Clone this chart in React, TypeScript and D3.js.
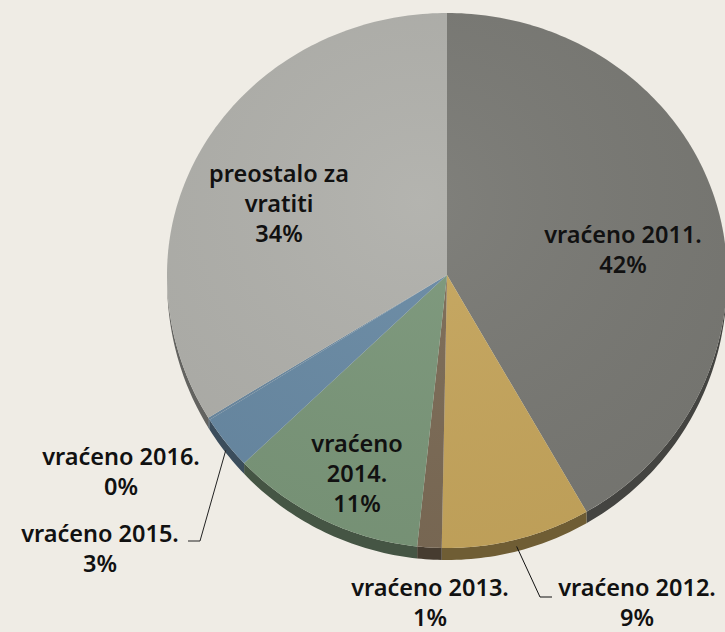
import React from "react";
import * as d3 from "d3";

const categories = [
  "vraćeno 2011.",
  "vraćeno 2012.",
  "vraćeno 2013.",
  "vraćeno 2014.",
  "vraćeno 2015.",
  "vraćeno 2016.",
  "preostalo za vratiti",
];
const values = [41.7, 8.6, 1.4, 11.2, 3.2, 0.15, 33.75];
const colors = ["#787873", "#C5A55C", "#7B6A55", "#7A9679", "#6889A3", "#6A88A0", "#AFAFAA"];

// label layout: lines of the category text, anchor center x, first baseline, line step
const labelLines = [
  ["vraćeno 2011."],
  ["vraćeno 2012."],
  ["vraćeno 2013."],
  ["vraćeno", "2014."],
  ["vraćeno 2015."],
  ["vraćeno 2016."],
  ["preostalo za", "vratiti"],
];
const labelPos = [
  [623, 243, 30],
  [637, 596, 29.5],
  [430, 596, 29.5],
  [357, 452, 30],
  [100, 542, 30],
  [121, 465, 30],
  [279, 182, 30],
];

const W = 725;
const H = 632;
const cx = 447;
const cy = 275;
const rx = 280;
const ryTop = 262;
const ryBot = 273;
const depth = 12;

function pt(a: number, dy = 0): [number, number] {
  const c = Math.cos(a);
  const ry = c > 0 ? ryTop : ryBot;
  return [cx + rx * Math.sin(a), cy - ry * c + dy];
}

export default function App() {
  const total = d3.sum(values);
  const pie = d3.pie<number>().sort(null).value((d) => d);
  const arcs = pie(values);

  const slicePath = (a0: number, a1: number) => {
    const p = d3.path();
    p.moveTo(cx, cy);
    const n = Math.max(2, Math.ceil(((a1 - a0) * 180) / Math.PI));
    for (let i = 0; i <= n; i++) {
      const a = a0 + ((a1 - a0) * i) / n;
      const [x, y] = pt(a);
      p.lineTo(x, y);
    }
    p.closePath();
    return p.toString();
  };

  const sidePath = (a0: number, a1: number) => {
    const lo = Math.max(a0, Math.PI / 2);
    const hi = Math.min(a1, (3 * Math.PI) / 2);
    if (hi <= lo) return null;
    const n = Math.max(2, Math.ceil(((hi - lo) * 180) / Math.PI));
    const p = d3.path();
    for (let i = 0; i <= n; i++) {
      const a = lo + ((hi - lo) * i) / n;
      const [x, y] = pt(a);
      if (i === 0) p.moveTo(x, y);
      else p.lineTo(x, y);
    }
    for (let i = n; i >= 0; i--) {
      const a = lo + ((hi - lo) * i) / n;
      const [x, y] = pt(a, depth * Math.abs(Math.cos(a)) ** 0.3);
      p.lineTo(x, y);
    }
    p.closePath();
    return p.toString();
  };

  // leader lines for small slices
  const lead2012 = (() => {
    const a = (arcs[1].startAngle + arcs[1].endAngle) / 2;
    const [x, y] = pt(a, 7);
    return `M${x},${y}L540,597L552,597`;
  })();
  const lead2015 = (() => {
    const a = (arcs[4].startAngle + arcs[4].endAngle) / 2;
    const [x, y] = pt(a, 8);
    return `M${x},${y}L200,541L188,541`;
  })();

  return (
    <svg
      width={W}
      height={H}
      style={{ position: "absolute", left: 0, top: 0, background: "#EFECE5" }}
    >
      <defs>
        <radialGradient id="shine" cx="0.45" cy="0.35" r="0.7">
          <stop offset="0" stopColor="#fff" stopOpacity="0.06" />
          <stop offset="1" stopColor="#000" stopOpacity="0.04" />
        </radialGradient>
      </defs>
      <rect width={W} height={H} fill="#EFECE5" />
      {arcs.map((d, i) => {
        const sp = sidePath(d.startAngle, d.endAngle);
        return sp ? (
          <path key={"s" + i} d={sp} fill={d3.color(colors[i])!.darker(1.6).toString()} />
        ) : null;
      })}
      {arcs.map((d, i) => (
        <path key={"p" + i} d={slicePath(d.startAngle, d.endAngle)} fill={colors[i]} />
      ))}
      <path d={slicePath(0, 2 * Math.PI)} fill="url(#shine)" />
      <path d={lead2012} fill="none" stroke="#111" strokeWidth={1} />
      <path d={lead2015} fill="none" stroke="#222" strokeWidth={1} />
      <g
        fontFamily="'Noto Sans', 'Liberation Sans', sans-serif"
        fontWeight={600}
        fontSize={23.5}
        fill="#111"
        textAnchor="middle"
      >
        {arcs.map((d, i) => {
          const [x, y, step] = labelPos[i];
          const lines = [...labelLines[i], `${Math.round((values[i] / total) * 100)}%`];
          return (
            <text key={"t" + i} x={x} y={y}>
              {lines.map((l, j) => (
                <tspan key={j} x={x} y={y + j * step}>
                  {l}
                </tspan>
              ))}
            </text>
          );
        })}
      </g>
    </svg>
  );
}
